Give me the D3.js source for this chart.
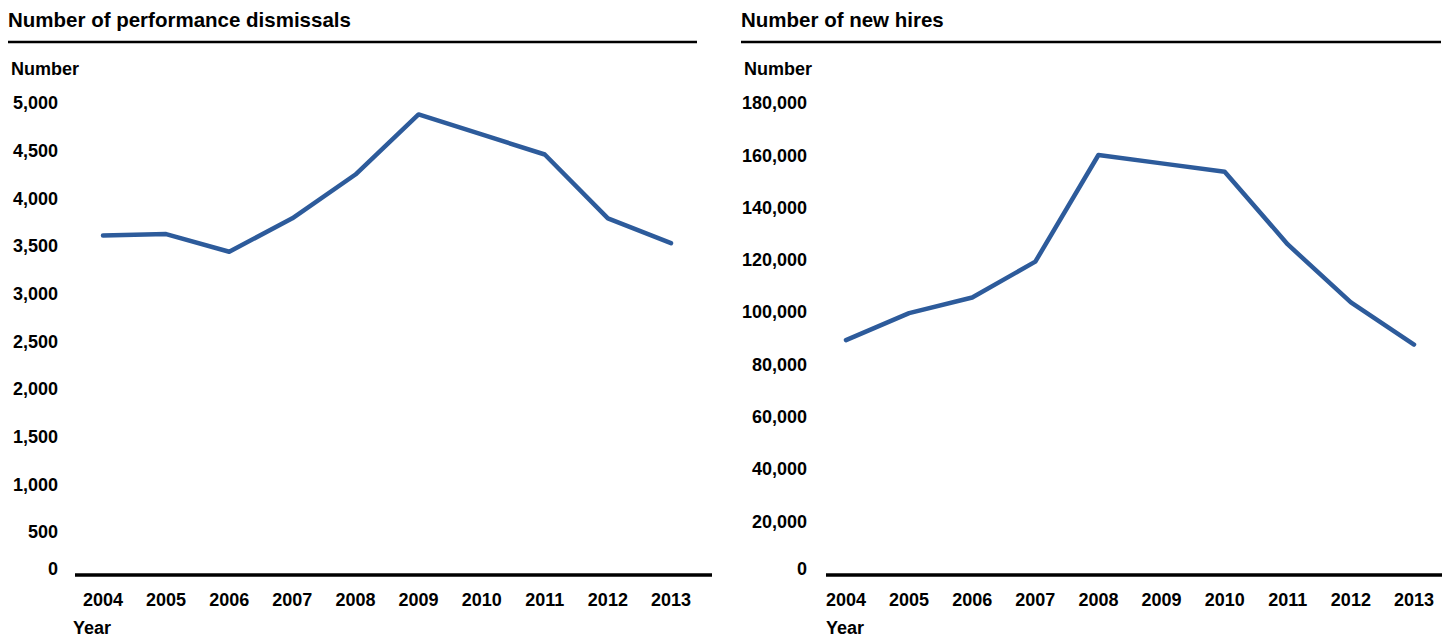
<!DOCTYPE html>
<html>
<head>
<meta charset="utf-8">
<script src="https://cdn.jsdelivr.net/npm/d3@7"></script>
<style>
  body { margin: 0; background: #fff; }
  text { font-family: "Liberation Sans", Arial, sans-serif; fill: #000; }
</style>
</head>
<body>
<svg id="chart" width="1452" height="637"></svg>
<script>
// data
const years = ["2004","2005","2006","2007","2008","2009","2010","2011","2012","2013"];
const dismissals = [3610, 3625, 3440, 3790, 4250, 4880, 4670, 4460, 3790, 3530];
const hires = [89300, 99600, 105600, 119300, 160100, 156900, 153700, 125900, 103700, 87600];
const dismissalTicks = [0, 500, 1000, 1500, 2000, 2500, 3000, 3500, 4000, 4500, 5000];
const hireTicks = [0, 20000, 40000, 60000, 80000, 100000, 120000, 140000, 160000, 180000];

const lineColor = "#2D5B9B";
const svg = d3.select("#chart");
const fmt = d3.format(",");

// one panel
const drawPanel = (p) => {
    const g = svg.append("g");

    // title + rule
    g.append("text")
        .attr("x", p.left).attr("y", 27)
        .style("font-size", "20.5px").style("font-weight", "bold")
        .text(p.title);
    g.append("line")
        .attr("x1", p.left).attr("x2", p.ruleEnd)
        .attr("y1", 42).attr("y2", 42)
        .style("stroke", "#000").style("stroke-width", 2.5);

    g.append("text")
        .attr("x", p.left + 3).attr("y", 75)
        .style("font-size", "18px").style("font-weight", "bold")
        .text("Number");

    const x = d3.scalePoint().domain(years).range([p.x0, p.x1]);
    const y = d3.scaleLinear().domain([0, p.max]).range([p.y0, 103]);

    // y tick labels
    g.selectAll(".ytick").data(p.ticks).enter().append("text")
        .attr("class", "ytick")
        .attr("x", p.labelRight)
        .attr("y", d => Math.min(y(d), p.axisY - 6))
        .attr("dy", "0.35em")
        .attr("text-anchor", "end")
        .style("font-size", "18px").style("font-weight", "bold")
        .text(d => fmt(d));

    // x axis line
    g.append("line")
        .attr("x1", p.axisStart).attr("x2", p.axisEnd)
        .attr("y1", p.axisY).attr("y2", p.axisY)
        .style("stroke", "#000").style("stroke-width", 3.5);

    // x labels
    g.selectAll(".xtick").data(years).enter().append("text")
        .attr("class", "xtick")
        .attr("x", d => x(d))
        .attr("y", 606)
        .attr("text-anchor", "middle")
        .style("font-size", "18px").style("font-weight", "bold")
        .text(d => d);

    g.append("text")
        .attr("x", p.yearX).attr("y", 634)
        .style("font-size", "18px").style("font-weight", "bold")
        .text("Year");

    // line
    const line = d3.line()
        .x((d, i) => x(years[i]))
        .y(d => y(d));
    g.append("path")
        .datum(p.values)
        .attr("d", line)
        .style("fill", "none")
        .style("stroke", lineColor)
        .style("stroke-width", 4.5)
        .style("stroke-linejoin", "round")
        .style("stroke-linecap", "round");
};

drawPanel({
    title: "Number of performance dismissals",
    left: 8, ruleEnd: 697,
    x0: 103, x1: 671,
    y0: 579.7, max: 5000,
    ticks: dismissalTicks,
    labelRight: 58,
    axisStart: 75, axisEnd: 712, axisY: 575,
    yearX: 73,
    values: dismissals
});

drawPanel({
    title: "Number of new hires",
    left: 741, ruleEnd: 1441,
    x0: 846, x1: 1414,
    y0: 573.5, max: 180000,
    ticks: hireTicks,
    labelRight: 807,
    axisStart: 826, axisEnd: 1442, axisY: 575,
    yearX: 826,
    values: hires
});
</script>
</body>
</html>
